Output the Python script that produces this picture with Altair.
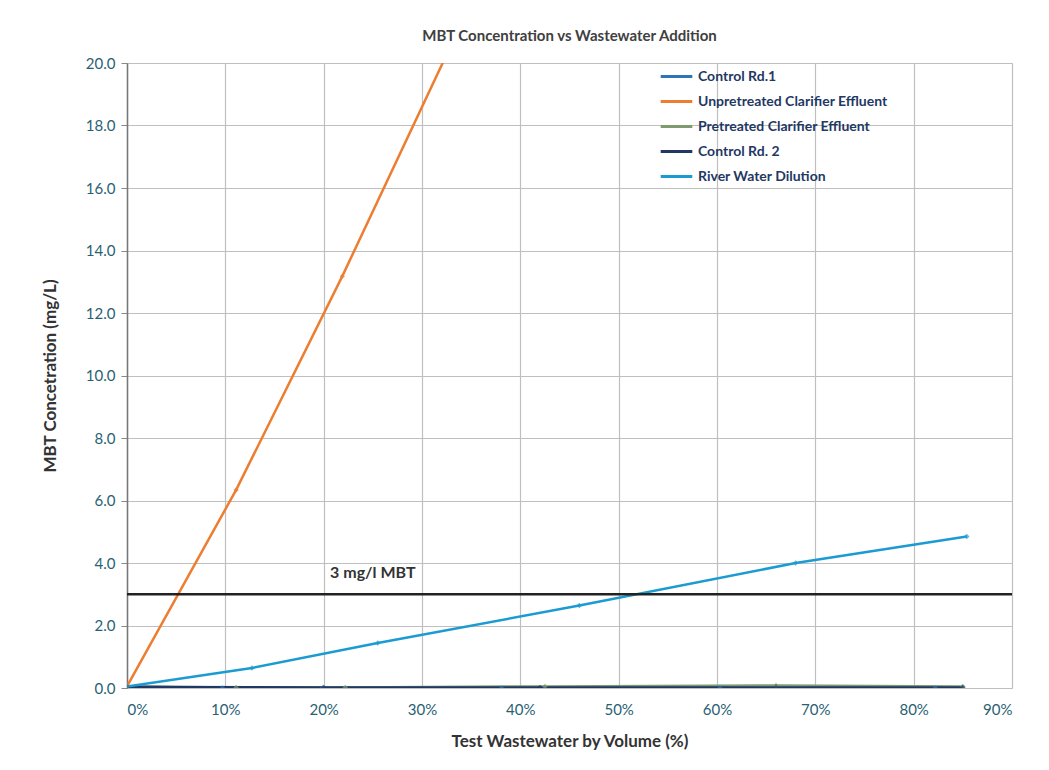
import altair as alt
import pandas as pd

FONT = "Lato"

series_names = [
    "Control Rd.1",
    "Unpretreated Clarifier Effluent",
    "Pretreated Clarifier Effluent",
    "Control Rd. 2",
    "River Water Dilution",
]
colors = ["#2E75B6", "#ED7D31", "#7F9A6E", "#1F3864", "#1B9BD1"]

ctrl1_x = [0.0, 0.097, 0.199, 0.381, 0.603, 0.822]
ctrl1_y = [0.05, 0.0, 0.0, 0.0, 0.0, 0.0]

unpre_x = [0.0, 0.111, 0.219, 0.33]
unpre_y = [0.05, 6.34, 13.18, 20.6]

pre_x = [0.0, 0.111, 0.222, 0.425, 0.66, 0.85]
pre_y = [0.05, 0.02, 0.02, 0.05, 0.08, 0.05]

ctrl2_x = [0.0, 0.20, 0.42, 0.66, 0.85]
ctrl2_y = [0.03, 0.02, 0.02, 0.02, 0.02]

river_x = [0.0, 0.127, 0.255, 0.46, 0.68, 0.854]
river_y = [0.05, 0.64, 1.44, 2.64, 4.0, 4.85]

threshold = 3.0
threshold_label = "3 mg/l MBT"

rows = []
for name, xs, ys in [
    (series_names[0], ctrl1_x, ctrl1_y),
    (series_names[1], unpre_x, unpre_y),
    (series_names[2], pre_x, pre_y),
    (series_names[3], ctrl2_x, ctrl2_y),
    (series_names[4], river_x, river_y),
]:
    for i, (x, y) in enumerate(zip(xs, ys)):
        rows.append({"series": name, "x": x, "y": y, "order": i})
df = pd.DataFrame(rows)

xscale = alt.Scale(domain=[0, 0.9], nice=False)
yscale = alt.Scale(domain=[0, 20], nice=False)
cscale = alt.Scale(domain=series_names, range=colors)
color = alt.Color(
    "series:N",
    scale=cscale,
    sort=series_names,
    legend=alt.Legend(
        title=None,
        orient="none",
        legendX=532,
        legendY=-4,
        symbolType="stroke",
        symbolSize=1000,
        symbolStrokeWidth=3,
        labelFont=FONT,
        labelFontSize=14,
        labelColor="#1F3864",
        labelFontWeight="bold",
        labelLimit=400,
        labelOffset=4,
        rowPadding=-8,
    ),
)

LABEL_COLOR = "#2A5F73"
x_enc = alt.X(
    "x:Q",
    scale=xscale,
    axis=alt.Axis(
        title="Test Wastewater by Volume (%)",
        format=".0%",
        values=[0, 0.1, 0.2, 0.3, 0.4, 0.5, 0.6, 0.7, 0.8, 0.9],
        ticks=False,
        domain=False,
        labelPadding=14,
        titlePadding=16,
        labelFont=FONT,
        labelFontSize=15,
        labelColor=LABEL_COLOR,
        titleFont=FONT,
        titleFontSize=17,
        titleColor="#333333",
        titleFontWeight="bold",
        gridColor="#BFBFBF",
        gridWidth=1.2,
    ),
)
y_enc = alt.Y(
    "y:Q",
    scale=yscale,
    axis=alt.Axis(
        title="MBT Concetration (mg/L)",
        format=".1f",
        values=list(range(0, 21, 2)),
        tickSize=6,
        labelPadding=6,
        titlePadding=26,
        domain=True,
        domainColor="#777777",
        domainWidth=1.5,
        tickColor="#888888",
        labelFont=FONT,
        labelFontSize=15,
        labelColor=LABEL_COLOR,
        titleFont=FONT,
        titleFontSize=17,
        titleColor="#333333",
        titleFontWeight="bold",
        gridColor="#BFBFBF",
        gridWidth=1.2,
    ),
)

lines = alt.Chart(df).mark_line(strokeWidth=2.5, clip=True).encode(
    x=x_enc, y=y_enc, color=color, order="order:Q"
)
points = alt.Chart(df).mark_point(filled=True, size=30, clip=True, shape="diamond").encode(
    x="x:Q", y="y:Q", color=alt.Color("series:N", legend=None, scale=cscale)
)

thr_df = pd.DataFrame({"y": [threshold], "x": [0.0], "x2": [0.9], "label": [threshold_label], "lx": [0.25]})
rule = alt.Chart(thr_df).mark_rule(color="#222222", strokeWidth=2.5).encode(
    y="y:Q", x="x:Q", x2="x2:Q"
)
label = alt.Chart(thr_df).mark_text(
    font=FONT, fontSize=16, fontWeight="bold", color="#333333", dy=-21
).encode(x="lx:Q", y="y:Q", text="label:N")

chart = (
    alt.layer(lines, points, rule, label)
    .properties(
        width=885,
        height=625,
        title=alt.TitleParams(
            "MBT Concentration vs  Wastewater Addition",
            font=FONT,
            fontSize=15,
            fontWeight="bold",
            color="#404040",
            anchor="middle",
            offset=12,
        ),
        autosize=alt.AutoSizeParams(type="none"),
        padding={"left": 119, "top": 55, "right": 20, "bottom": 72},
    )
    .configure_view(stroke=None)
    .configure(background="white")
)

chart.save("out.html", embed_options={"renderer": "svg", "actions": False})
